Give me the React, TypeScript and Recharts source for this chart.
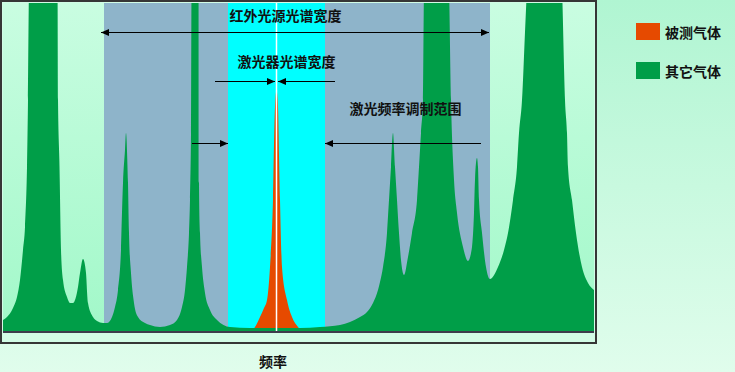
import { ComposedChart, Area, XAxis, YAxis, CartesianGrid, ReferenceArea, ReferenceLine, ReferenceDot, Legend, Label } from "recharts";

// frequency (px-like units across the plot) and absorption level for each gas
const otherGasFreq = [
  3, 7, 13, 17, 20, 23, 25, 27, 28, 29, 43, 57.5, 58, 59.5, 61, 63, 67, 70, 73, 78, 80, 83, 86, 88, 93, 97, 103, 107,
  112, 115, 118, 121, 123, 125, 126, 128, 129, 131, 134, 138, 145, 150, 160, 170, 177, 182, 185, 187, 189, 190, 191,
  191.5, 195, 198.5, 199, 200, 202, 205, 210, 217, 230, 250, 275, 300, 320, 340, 350, 360, 367, 373, 378, 380, 383,
  387, 389, 391, 393, 395, 397, 399, 401, 404, 408, 412, 417, 419, 421, 423, 424, 436, 449, 451, 454, 457, 463, 468,
  472, 474, 475, 477, 478, 479, 482, 486, 490, 498, 504, 508, 513, 517, 519, 522, 525, 527, 545, 562, 565, 567, 568,
  572, 576, 582, 588, 594,
];
const otherGasLevel = [
  12, 15, 24, 35, 52, 82, 105, 165, 232, 345, 600, 345, 232, 165, 82, 52, 35, 29, 29, 45, 59, 73, 59, 29, 15, 11, 9, 9,
  15, 25, 42, 82, 149, 182, 199, 149, 99, 59, 29, 15, 9, 7, 5, 7, 12, 25, 42, 65, 99, 132, 199,
  345, 600, 345, 149, 99, 65, 39, 22, 12, 5, 4, 4, 4, 5, 7, 10, 15, 20, 29, 42, 50, 65,
  99, 132, 165, 199, 165, 132, 99, 72, 57, 75, 99, 132, 165, 199, 232, 345, 600, 345, 232, 152, 119, 85, 71,
  85, 119, 152, 174, 165, 132, 99, 65, 53, 65, 82, 99, 132, 165, 199, 232, 300, 345, 600, 345, 232, 199, 165,
  132, 99, 65, 49, 42,
];
const targetGasFreq = [250, 255, 260, 264, 267, 270, 273, 275, 276.5, 278, 280, 282, 287, 292, 298, 303];
const targetGasLevel = [0, 5, 15, 24, 32, 65, 132, 225, 242, 225, 132, 65, 32, 15, 5, 0];

const legendOrder = ["被测气体", "其它气体"];

const sourceBand = [104, 490];
const laserBand = [228, 325];
const laserLine = 276.5;

const rows = [
  ...otherGasFreq.map((f, i) => ({ f, other: otherGasLevel[i] })),
  ...targetGasFreq.map((f, i) => ({ f, target: targetGasLevel[i] })),
].sort((a, b) => a.f - b.f);

const FONT = '"Noto Sans CJK SC", "Noto Sans", sans-serif';

const arrows = [
  { from: 101, to: 489, y: 300, both: true },
  { from: 215, to: 275, y: 251 },
  { from: 335, to: 278, y: 251 },
  { from: 192, to: 228, y: 189 },
  { from: 481, to: 325, y: 189 },
];
const notes = [
  { text: "红外光源光谱宽度", x: 285.5, y: 317 },
  { text: "激光器光谱宽度", x: 286.5, y: 271 },
  { text: "激光频率调制范围", x: 405.5, y: 224 },
];

function head(x: number, y: number, dir: number) {
  return `${x},${y} ${x - dir * 8},${y - 3.5} ${x - dir * 8},${y + 3.5}`;
}

function ArrowShape(props: any) {
  const { x1, x2, y1, both } = props;
  const y = Math.round(y1) + 0.5;
  const dir = x2 > x1 ? 1 : -1;
  return (
    <g>
      <line x1={x1} x2={x2} y1={y} y2={y} stroke="#000" strokeWidth={1} />
      <polygon points={head(x2, y, dir)} fill="#000" />
      {both && <polygon points={head(x1, y, -dir)} fill="#000" />}
    </g>
  );
}

function renderLegend({ payload }: any) {
  const items = [...(payload || [])].sort(
    (a: any, b: any) => legendOrder.indexOf(a.value) - legendOrder.indexOf(b.value)
  );
  return (
    <div style={{ fontFamily: FONT, fontWeight: 700, fontSize: 14, color: "#111" }}>
      {items.map((e: any, i: number) => (
        <div key={e.value} style={{ display: "flex", alignItems: "center", height: 17, marginBottom: i === 0 ? 22 : 0 }}>
          <span style={{ width: 24, height: 17, background: e.color, marginRight: 5, display: "inline-block" }} />
          <span>{e.value}</span>
        </div>
      ))}
    </div>
  );
}

export default function App() {
  return (
    <div
      style={{
        position: "absolute",
        left: 0,
        top: 0,
        width: 735,
        height: 372,
        background: "linear-gradient(to bottom, #b0f5d2, #e0fdec)",
        overflow: "hidden",
      }}
    >
      <svg width={0} height={0} style={{ position: "absolute" }}>
        <defs>
          <linearGradient id="plotBg" x1="0" y1="0" x2="0" y2="1">
            <stop offset="0%" stopColor="#c9fde1" />
            <stop offset="100%" stopColor="#a2f8c9" />
          </linearGradient>
        </defs>
      </svg>
      <div
        style={{
          position: "absolute",
          left: 0,
          top: 0,
          width: 597,
          height: 344,
          boxSizing: "border-box",
          border: "2px solid #363636",
          background: "#d2fce6",
        }}
      />
      <div style={{ position: "absolute", left: 0, top: 0 }}>
        <ComposedChart width={735} height={372} data={rows} margin={{ top: 3, right: 141, left: 3, bottom: 0 }}>
          <CartesianGrid fill="url(#plotBg)" horizontal={false} vertical={false} />
          <XAxis
            dataKey="f"
            type="number"
            domain={[3, 594]}
            allowDataOverflow
            height={40}
            tick={false}
            tickLine={false}
            axisLine={{ stroke: "#3c3c4c", strokeWidth: 2 }}
          >
            <Label
              content={({ viewBox }: any) => (
                <text
                  x={viewBox.x + 270}
                  y={viewBox.y + 29}
                  textAnchor="middle"
                  dominantBaseline="central"
                  fontFamily={FONT}
                  fontWeight={700}
                  fontSize={14}
                  fill="#111"
                >
                  频率
                </text>
              )}
            />
          </XAxis>
          <YAxis hide domain={[0, 329]} allowDataOverflow />
          <ReferenceArea x1={sourceBand[0]} x2={sourceBand[1]} fill="#8eb4ca" fillOpacity={1} stroke="none" />
          <ReferenceArea x1={laserBand[0]} x2={laserBand[1]} fill="#00ffff" fillOpacity={1} stroke="none" />
          <Area
            name="被测气体"
            dataKey="target"
            type="monotone"
            fill="#e64a00"
            fillOpacity={1}
            stroke="none"
            connectNulls
            isAnimationActive={false}
          />
          <Area
            name="其它气体"
            dataKey="other"
            type="monotone"
            fill="#009e48"
            fillOpacity={1}
            stroke="none"
            connectNulls
            isAnimationActive={false}
          />
          <ReferenceLine x={laserLine} stroke="#ffffff" strokeWidth={1.5} />
          {arrows.map((a, i) => (
            <ReferenceLine
              key={i}
              segment={[
                { x: a.from, y: a.y },
                { x: a.to, y: a.y },
              ]}
              shape={(p: any) => <ArrowShape {...p} both={a.both} />}
            />
          ))}
          {notes.map((n) => (
            <ReferenceDot
              key={n.text}
              x={n.x}
              y={n.y}
              shape={(p: any) => (
                <text
                  x={p.cx}
                  y={p.cy}
                  textAnchor="middle"
                  dominantBaseline="central"
                  fontFamily={FONT}
                  fontWeight={700}
                  fontSize={14}
                  fill="#111"
                >
                  {n.text}
                </text>
              )}
            />
          ))}
          <Legend
            layout="vertical"
            align="center"
            verticalAlign="middle"
            wrapperStyle={{ left: 636, top: 23, width: 100 }}
            content={renderLegend}
          />
        </ComposedChart>
      </div>
    </div>
  );
}
